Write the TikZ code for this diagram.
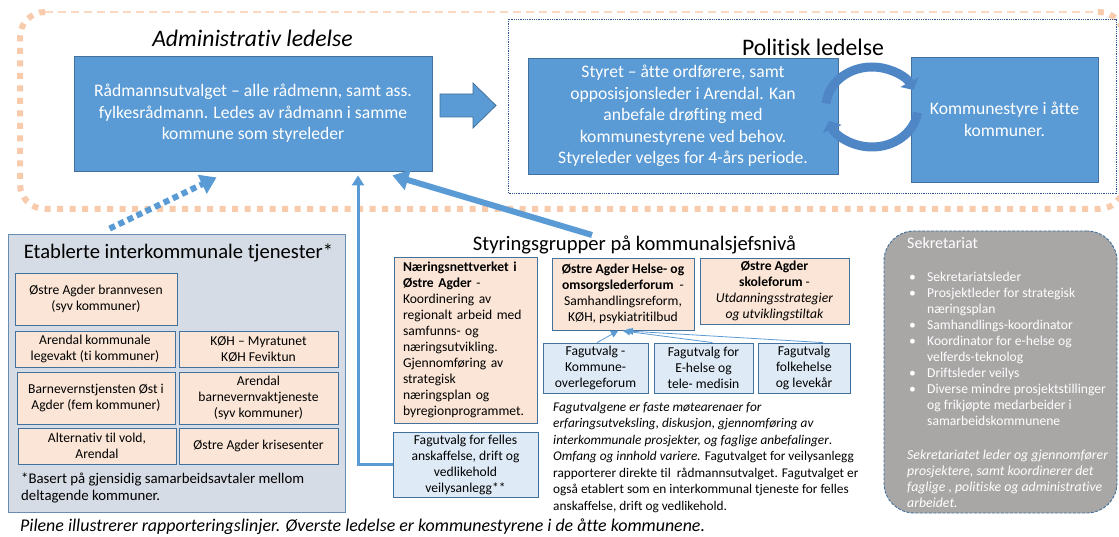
\documentclass[tikz,border=0pt]{standalone}
\usepackage{fontspec}
\setmainfont{Carlito}[Ligatures=NoCommon]
\usetikzlibrary{arrows.meta,calc}

\definecolor{boxblue}{HTML}{5B9BD5}
\definecolor{lineblue}{HTML}{41719C}
\definecolor{peach}{HTML}{FBE5D6}
\definecolor{paleblue}{HTML}{DEEBF7}
\definecolor{panelgray}{HTML}{D6DCE5}
\definecolor{secgray}{HTML}{A9A6A6}
\definecolor{dotorange}{HTML}{F8CBAD}
\definecolor{frameblue}{HTML}{2F5597}
\definecolor{ringblue}{HTML}{4F86C6}

\newcommand{\sekbullet}{\makebox[18pt][l]{•}}
\newcommand{\sekindent}{\hspace*{18pt}}

\tikzset{
    leader/.style={draw=lineblue, fill=boxblue, text=white, align=center, inner sep=0pt,
        line width=0.8pt, font=\fontsize{17.6}{21.6}\selectfont},
    groupbox/.style={draw=lineblue, fill=peach, align=center, inner sep=0pt,
        line width=0.8pt, font=\fontsize{13.6}{16}\selectfont},
    fagbox/.style={groupbox, fill=paleblue},
    heading/.style={inner sep=0pt, font=\fontsize{23.7}{28}\selectfont},
    subheading/.style={inner sep=0pt, font=\fontsize{20.6}{24}\selectfont},
    note/.style={inner sep=0pt, align=left, anchor=west, font=\fontsize{13.3}{16.5}\selectfont},
    sektext/.style={note, text=white},
    framedots/.style={draw=dotorange, line width=6pt, dash pattern=on 6pt off 6.5pt},
    framedash/.style={draw=dotorange!75, line width=1.5pt, dash pattern=on 8pt off 5pt},
    polframe/.style={draw=frameblue, line width=0.9pt, dash pattern=on 0.9pt off 0.9pt},
    reportline/.style={draw=boxblue, line width=3pt, -{Triangle[length=10pt,width=12pt]}},
    thickreport/.style={draw=boxblue, line width=6pt, -{Triangle[length=16pt,width=20pt]}},
    dotreport/.style={draw=boxblue, line width=6pt, dash pattern=on 6pt off 4pt,
        -{Triangle[length=16pt,width=20pt]}},
    fagarrow/.style={draw=boxblue, line width=0.8pt, -{Triangle[length=7pt,width=7pt]}},
    ringarrow/.style={draw=ringblue, line width=9pt, -{Triangle[length=9pt,width=20pt]}},
}

\begin{document}
\begin{tikzpicture}[x=1pt, y=-1pt]
        \useasboundingbox (0,0) rectangle (1119,537);
        \clip (0,0) rectangle (1119,537);
        \fill[white] (0,0) rectangle (1119,537);

        % ledelse ramme
        \draw[framedots, rounded corners=25pt] (45,12) -- (20,12) -- (20,209) -- (1124,209) -- (1124,12) -- (1095,12);
        \draw[framedash] (45,12) -- (1095,12);

        \node[heading, font=\fontsize{23.7}{28}\itshape] (admtitle) at (252.5,38) {Administrativ ledelse};
        \node[leader, minimum width=358pt, minimum height=115pt] (rad) at (253,113.5)
            {Rådmannsutvalget – alle rådmenn, samt ass.\\ fylkesrådmann. Ledes av rådmann i samme\\ kommune som styreleder};

        \draw[draw=lineblue, fill=boxblue, line width=0.8pt] (440,94) -- (473,94) -- (473,83) -- (496,105.5)
            -- (473,128) -- (473,117) -- (440,117) -- cycle;

        % politisk ledelse
        \draw[polframe] (508,19) rectangle (1116,193);
        \node[heading] (poltitle) at (813,47) {Politisk ledelse};
        \node[leader, minimum width=310pt, minimum height=116pt] (styret) at (683,116)
            {Styret – åtte ordførere, samt\\ opposisjonsleder i Arendal. Kan\\ anbefale drøfting med\\ kommunestyrene ved behov.\\ Styreleder velges for 4-års periode.};
        \node[leader, minimum width=187pt, minimum height=125pt] (kstyre) at (1004.5,119.5)
            {Kommunestyre i åtte\\ kommuner.};
        \draw[ringarrow] ([shift={(872,107)}]185:46 and 40) arc[start angle=185, end angle=335, x radius=46, y radius=40];
        \draw[ringarrow] ([shift={(872,107)}]8:46 and 40) arc[start angle=8, end angle=160, x radius=46, y radius=40];

        % interkommunale tjenester
        \node[draw=lineblue!80, fill=panelgray, line width=0.8pt, minimum width=337pt, minimum height=278pt, inner sep=0pt] (etab) at (176.5,373) {};
        \node[subheading] (etabtitle) at (178.5,253) {Etablerte interkommunale tjenester*};
        \node[groupbox, minimum width=162pt, minimum height=52pt] (brann) at (96,299) {Østre Agder brannvesen\\ (syv kommuner)};
        \node[groupbox, minimum width=160pt, minimum height=36pt] (legevakt) at (95,349) {Arendal kommunale\\ legevakt (ti kommuner)};
        \node[groupbox, minimum width=159pt, minimum height=36pt] (koh) at (258.5,349) {KØH – Myratunet\\ KØH Feviktun};
        \node[groupbox, minimum width=158pt, minimum height=52pt] (barnevern) at (96,398) {Barnevernstjensten Øst i\\ Agder (fem kommuner)};
        \node[groupbox, minimum width=159pt, minimum height=52pt] (bvakt) at (258.5,398) {Arendal\\ barnevernvaktjeneste\\ (syv kommuner)};
        \node[groupbox, minimum width=158pt, minimum height=36pt] (altvold) at (97,446) {Alternativ til vold,\\ Arendal};
        \node[groupbox, minimum width=159pt, minimum height=36pt] (krise) at (258.5,446) {Østre Agder krisesenter};
        \node[note, font=\fontsize{14.8}{17}\selectfont] (etabnote) at (21,488.5)
            {*Basert på gjensidig samarbeidsavtaler mellom\\ deltagende kommuner.};

        % styringsgrupper
        \node[subheading] (stytitle) at (634.5,245) {Styringsgrupper på kommunalsjefsnivå};
        \node[groupbox, align=left, text width=125pt, inner xsep=9pt, minimum height=166pt] (naering) at (465.5,340)
            {\textbf{Næringsnettverket i}\\ \textbf{Østre Agder} -\\ Koordinering av\\ regionalt arbeid med\\ samfunns- og\\ næringsutvikling.\\ Gjennomføring av\\ strategisk\\ næringsplan og\\ byregionprogrammet.};
        \node[fagbox, minimum width=145pt, minimum height=65pt] (felles) at (465.5,464.5)
            {Fagutvalg for felles\\ anskaffelse, drift og\\ vedlikehold\\ veilysanlegg**};
        \node[groupbox, minimum width=142pt, minimum height=72pt] (helse) at (623,294)
            {\textbf{Østre Agder Helse- og}\\ \textbf{omsorgslederforum} \ -\\ Samhandlingsreform,\\ KØH, psykiatritilbud};
        \node[groupbox, minimum width=149pt, minimum height=66pt] (skole) at (774.5,291)
            {\textbf{Østre Agder}\\ \textbf{skoleforum} -\\ \textit{Utdanningsstrategier}\\ \textit{og utviklingstiltak}};
        \node[fagbox, minimum width=105pt, minimum height=50pt] (fag1) at (595.5,368) {Fagutvalg -\\ Kommune-\\ overlegeforum};
        \node[fagbox, minimum width=99pt, minimum height=50pt] (fag2) at (703.5,368) {Fagutvalg for\\ E-helse og\\ tele- medisin};
        \node[fagbox, minimum width=92pt, minimum height=50pt] (fag3) at (804,368) {Fagutvalg\\ folkehelse\\ og levekår};
        \draw[fagarrow] ($(fag1.north)+(1.5,0)$) -- ($(helse.south)+(-5,0.5)$);
        \draw[fagarrow] ($(fag2.north)+(9,0)$) -- ($(helse.south)+(0,0.5)$);
        \draw[fagarrow] ($(fag3.north)+(19,0)$) -- ($(helse.south)+(3,0.5)$);
        \node[note] (fagnote) at (553,457.5)
            {\textit{Fagutvalgene er faste møtearenaer for}\\
             \textit{erfaringsutveksling, diskusjon, gjennomføring av}\\
             \textit{interkommunale prosjekter, og faglige anbefalinger}.\\
             \textit{Omfang og innhold variere.} Fagutvalget for veilysanlegg\\
             rapporterer direkte til\ \ rådmannsutvalget. Fagutvalget er\\
             også etablert som en interkommunal tjeneste for felles\\
             anskaffelse, drift og vedlikehold.};

        % rapporteringslinjer
        \coordinate (dotstart) at ($(etab.north west)+(102,-5)$);
        \coordinate (vx) at (358,0);
        \coordinate (stystart) at (592,235);
        \draw[dotreport] (dotstart) -- ($(rad.south west)+(143,6)$);
        \draw[reportline, shorten >=4pt] (felles.west) -- (felles.west -| vx) -- (vx |- rad.south);
        \draw[thickreport] (stystart) -- ($(rad.south east)+(-40,4)$);

        % sekretariat
        \node[draw=lineblue, fill=secgray, line width=0.9pt, dash pattern=on 3pt off 1.5pt, rounded corners=30pt,
            minimum width=233pt, minimum height=282pt, inner sep=0pt] (sek) at (1000.5,372) {};
        \node[sektext, font=\fontsize{16}{19}\selectfont] (sektitle) at (907,243) {Sekretariat};
        \node[sektext, font=\fontsize{13.6}{16}\selectfont] (sekitems) at (909,349)
            {\sekbullet Sekretariatsleder\\
             \sekbullet Prosjektleder for strategisk\\
             \sekindent næringsplan\\
             \sekbullet Samhandlings-koordinator\\
             \sekbullet Koordinator for e-helse og\\
             \sekindent velferds-teknolog\\
             \sekbullet Driftsleder veilys\\
             \sekbullet Diverse mindre prosjektstillinger\\
             \sekindent og frikjøpte medarbeider i\\
             \sekindent samarbeidskommunene};
        \node[sektext, font=\fontsize{13.8}{16}\itshape] (sekrole) at (907,479)
            {Sekretariatet leder og gjennomfører\\ prosjektere, samt koordinerer det\\ faglige , politiske og administrative\\ arbeidet.};

        \node[note, font=\fontsize{17.9}{21}\itshape] (pilene) at (20,527)
            {Pilene illustrerer rapporteringslinjer. Øverste ledelse er kommunestyrene i de åtte kommunene.};
\end{tikzpicture}
\end{document}
